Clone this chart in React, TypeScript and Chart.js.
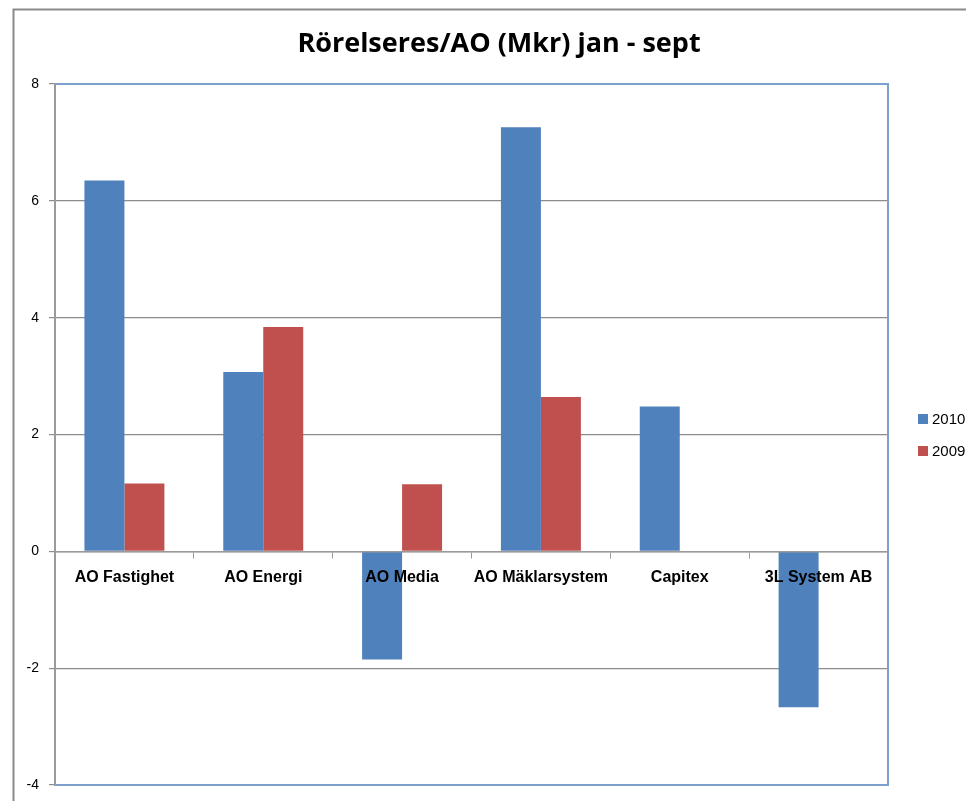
import React, { useEffect, useRef } from "react";
import { Chart, registerables } from "chart.js";

Chart.register(...registerables);

const categories = ["AO Fastighet", "AO Energi", "AO Media", "AO Mäklarsystem", "Capitex", "3L System AB"];
const series2010 = [6.35, 3.07, -1.85, 7.26, 2.48, -2.67];
const series2009 = [1.16, 3.84, 1.15, 2.64, 0, 0];
const seriesLabels = ["2010", "2009"];
const seriesColors = ["#4F81BD", "#C0504D"];
const titleText = "Rörelseres/AO (Mkr) jan - sept";
const yMin = -4;
const yMax = 8;
const yStep = 2;

const decorPlugin = {
  id: "decor",
  beforeDraw(chart: any) {
    const ctx = chart.ctx;
    ctx.save();
    ctx.fillStyle = "#ffffff";
    ctx.fillRect(0, 0, chart.width, chart.height);
    // outer frame
    ctx.strokeStyle = "#8a8a8a";
    ctx.lineWidth = 2;
    ctx.beginPath();
    ctx.moveTo(13.5, chart.height + 5);
    ctx.lineTo(13.5, 9.5);
    ctx.lineTo(chart.width + 5, 9.5);
    ctx.stroke();
    ctx.restore();
  },
  afterDraw(chart: any) {
    const ctx = chart.ctx;
    const a = chart.chartArea;
    ctx.save();
    // plot border (blue) top, right, bottom
    ctx.strokeStyle = "#7BA0CD";
    ctx.lineWidth = 2;
    ctx.beginPath();
    ctx.moveTo(a.left, a.top);
    ctx.lineTo(a.right, a.top);
    ctx.lineTo(a.right, a.bottom);
    ctx.lineTo(a.left, a.bottom);
    ctx.stroke();
    // left axis line on top
    ctx.strokeStyle = "#9a9a9a";
    ctx.lineWidth = 2;
    ctx.beginPath();
    ctx.moveTo(a.left, a.top);
    ctx.lineTo(a.left, a.bottom + 1);
    ctx.stroke();
    // title
    ctx.fillStyle = "#000000";
    ctx.font = "bold 27px 'Open Sans', 'Liberation Sans', sans-serif";
    ctx.textAlign = "center";
    ctx.textBaseline = "middle";
    ctx.fillText(titleText, 499, 44);
    // legend
    ctx.font = "15px 'Liberation Sans', sans-serif";
    ctx.textAlign = "left";
    const ys = [419, 451];
    chart.data.datasets.forEach((ds: any, i: number) => {
      ctx.fillStyle = ds.backgroundColor;
      ctx.fillRect(918, ys[i] - 5, 10, 10);
      ctx.fillStyle = "#000000";
      ctx.fillText(ds.label, 932, ys[i] + 1);
    });
    ctx.restore();
  },
};

export default function App() {
  const ref = useRef<HTMLCanvasElement | null>(null);
  useEffect(() => {
    document.body.style.margin = "0";
    const chart = new Chart(ref.current as HTMLCanvasElement, {
      type: "bar",
      data: {
        labels: categories,
        datasets: [
          { label: seriesLabels[0], data: series2010, backgroundColor: seriesColors[0], borderWidth: 0 },
          { label: seriesLabels[1], data: series2009, backgroundColor: seriesColors[1], borderWidth: 0 },
        ],
      },
      options: {
        animation: false,
        responsive: false,
        maintainAspectRatio: false,
        layout: { padding: { left: 10, top: 84, right: 78, bottom: 16 } },
        datasets: { bar: { categoryPercentage: 0.576, barPercentage: 1 } } as any,
        plugins: { legend: { display: false }, title: { display: false }, tooltip: { enabled: false } },
        scales: {
          x: {
            position: { y: 0 } as any,
            offset: true,
            afterFit: (scale: any) => {
              scale.paddingTop = 0; scale.paddingBottom = 0; scale.paddingLeft = 0; scale.paddingRight = 0;
            },
            grid: { drawOnChartArea: false, offset: true, color: "#9a9a9a", tickLength: 6, lineWidth: 1, z: 1 } as any,
            border: { color: "#9a9a9a", width: 1.5, z: 1 } as any,
            ticks: {
              z: 1,
              color: "#000000",
              font: { family: "'Liberation Sans', sans-serif", size: 16, weight: "bold" },
              padding: 11,
              maxRotation: 0,
              autoSkip: false,
            },
          },
          y: {
            min: yMin,
            max: yMax,
            afterFit: (scale: any) => {
              scale.width = 45; scale.paddingTop = 0; scale.paddingBottom = 0;
            },
            grid: { color: "#8c8c8c", tickLength: 6, lineWidth: 1.2 },
            border: { color: "#9a9a9a", width: 2 },
            ticks: {
              stepSize: yStep,
              color: "#000000",
              font: { family: "'Liberation Sans', sans-serif", size: 14 },
              padding: 10,
            },
          },
        },
      },
      plugins: [decorPlugin],
    });
    return () => chart.destroy();
  }, []);
  return (
    <div style={{ position: "absolute", left: 0, top: 0, width: 966, height: 801 }}>
      <canvas ref={ref} width={966} height={801} style={{ width: 966, height: 801, display: "block" }} />
    </div>
  );
}
